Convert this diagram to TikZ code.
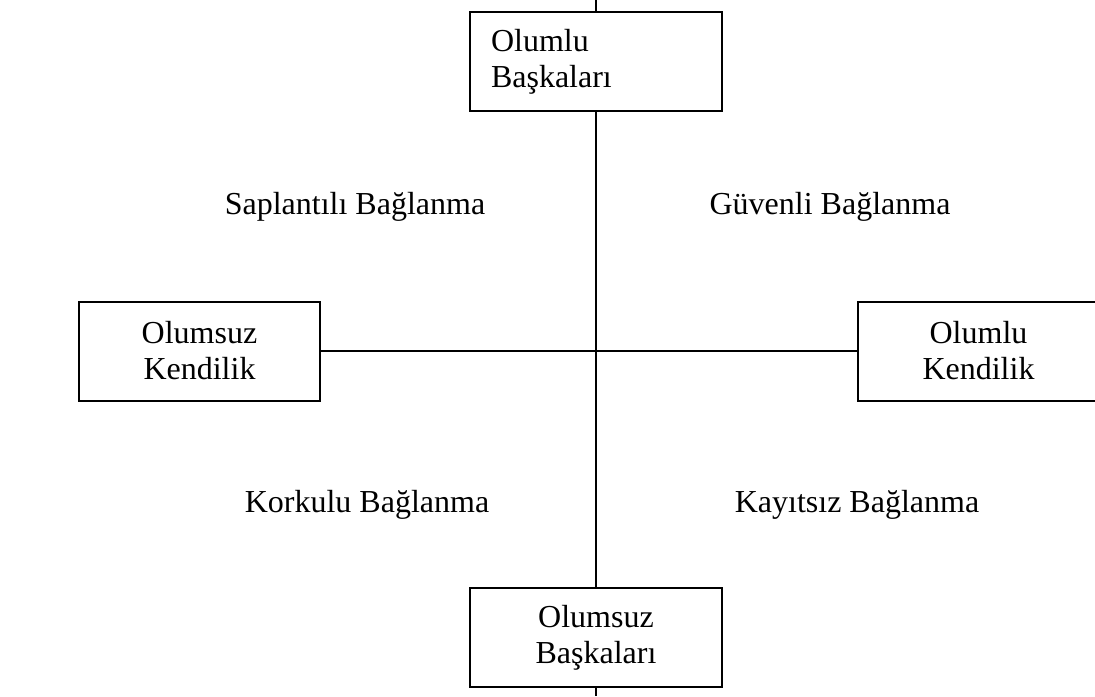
\documentclass[tikz,border=0pt]{standalone}
\usepackage{fontspec}
\setmainfont{Liberation Serif}

\begin{document}
\begin{tikzpicture}[x=0.5pt,y=-0.5pt,
        kutu/.style={draw,line width=1pt,minimum width=120.5pt,minimum height=49.5pt,inner sep=0pt,align=center,font=\fontsize{16}{18}\selectfont},
        etiket/.style={font=\fontsize{16}{18}\selectfont}]
        \useasboundingbox (0,0) rectangle (1095,696);
        \node[kutu,minimum width=126pt,text width=105pt,align=left] (ob) at (596,61.5) {Olumlu\\Başkaları};
        \node[kutu] (ok) at (199.5,351) {Olumsuz\\Kendilik};
        \node[kutu] (lk) at (978.5,351) {Olumlu\\Kendilik};
        \node[kutu,minimum width=126pt] (ub) at (596,637.5) {Olumsuz\\Başkaları};
        \node[etiket] (sb) at (355,207) {Saplantılı Bağlanma};
        \node[etiket] (gb) at (830,207) {Güvenli Bağlanma};
        \node[etiket] (kb) at (367,505) {Korkulu Bağlanma};
        \node[etiket] (yb) at (857,505) {Kayıtsız Bağlanma};
        \coordinate (ust) at (596,0);
        \coordinate (alt) at (596,696);
        \draw[line width=0.8pt] (ust) -- (ob);
        \draw[line width=0.8pt] (ob) -- (ub);
        \draw[line width=0.8pt] (ub) -- (alt);
        \draw[line width=0.8pt] (ok) -- (lk);
    \end{tikzpicture}
\end{document}
